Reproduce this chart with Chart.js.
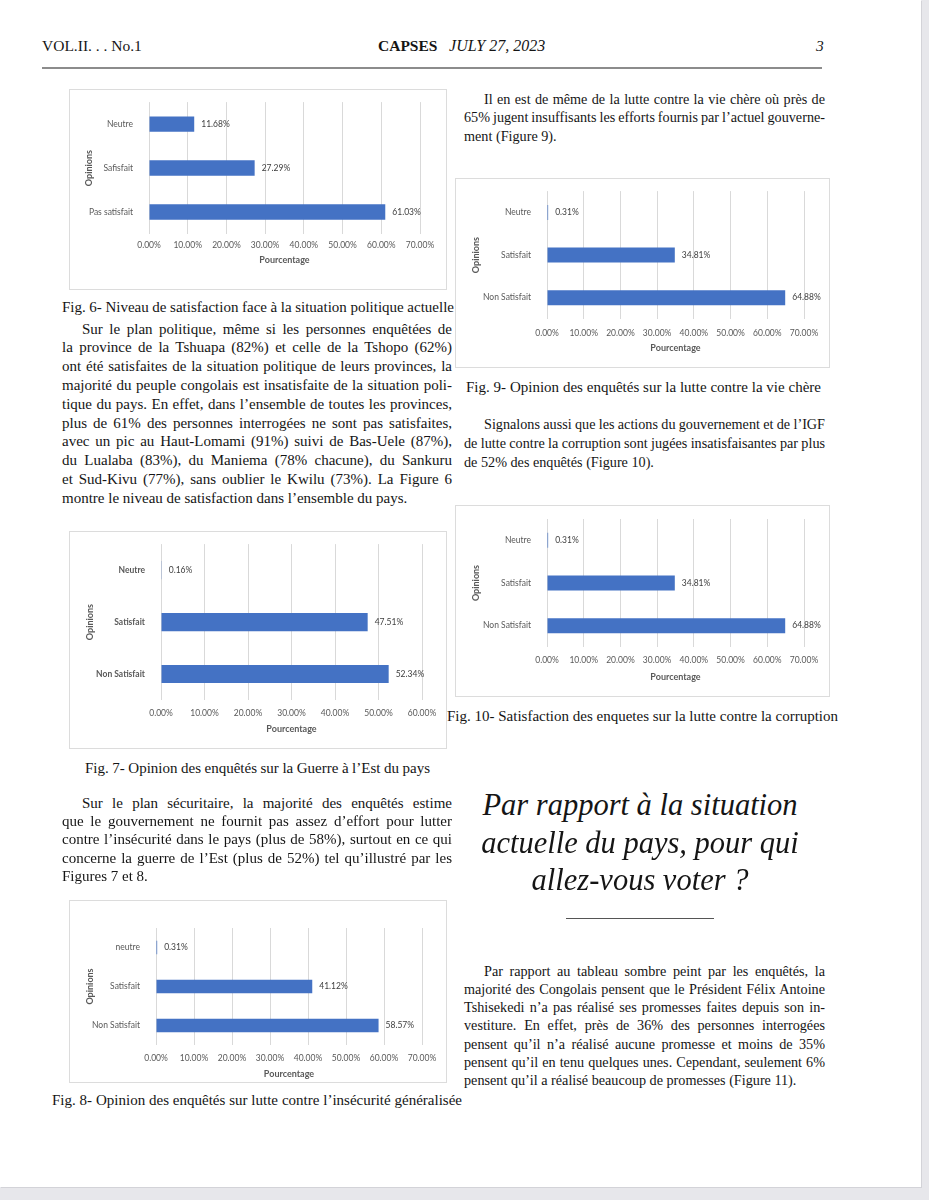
<!DOCTYPE html>
<html lang="fr">
<head>
<meta charset="utf-8">
<title>CAPSES - July 27, 2023 - page 3</title>
<script src="https://cdn.jsdelivr.net/npm/chart.js@4.4.0/dist/chart.umd.min.js"></script>
<style>
  html, body { margin: 0; padding: 0; }
  body { width: 929px; height: 1200px; background: #e7e7eb; position: relative; overflow: hidden;
         font-family: "Liberation Serif", "Times New Roman", serif; color: #151515; }
  #page { position: absolute; left: 0; top: 0; width: 921px; height: 1187px; background: #fff;
          box-shadow: 1px 1px 0 #d3d3d8; }
  .ln { position: absolute; white-space: nowrap; font-size: 15px; line-height: 19px; }
  .hd { position: absolute; white-space: nowrap; font-size: 15.5px; line-height: 20px; top: 36px; }
  .quote { position: absolute; white-space: nowrap; font-size: 30.5px; line-height: 36px; font-style: italic;
           left: 440px; width: 400px; text-align: center; }
  .box { position: absolute; border: 1px solid #dcdcdc; box-sizing: border-box; background: #fff; }
  .box canvas { position: absolute; left: -1px; top: -1px; }
  .rule { position: absolute; }
</style>
</head>
<body>
<div id="page">
  <div class="hd" style="left:42px;">VOL.II. . . No.1</div>
  <div class="hd" style="left:378px;"><b>CAPSES</b>&nbsp;&nbsp;&nbsp;<i style="font-size:16px;">JULY 27, 2023</i></div>
  <div class="hd" style="left:816px;"><i>3</i></div>
  <div class="rule" style="left:42px; top:67px; width:780px; height:2px; background:#8c8c8c;"></div>

  <div class="box" id="box6"><canvas id="fig6"></canvas></div>
  <div class="box" id="box7"><canvas id="fig7"></canvas></div>
  <div class="box" id="box8"><canvas id="fig8"></canvas></div>
  <div class="box" id="box9"><canvas id="fig9"></canvas></div>
  <div class="box" id="box10"><canvas id="fig10"></canvas></div>

  <div class="quote" style="top:787px;">Par rapport à la situation</div>
  <div class="quote" style="top:825px;">actuelle du pays, pour qui</div>
  <div class="quote" style="top:862px;">allez-vous voter ?</div>
  <div class="rule" style="left:566px; top:918px; width:148px; height:1px; background:#555;"></div>
</div>

<script>
// chart values
const fig6Categories = ["Neutre", "Safisfait", "Pas satisfait"];
const fig6Values = [11.68, 27.29, 61.03];
const fig7Categories = ["Neutre", "Satisfait", "Non Satisfait"];
const fig7Values = [0.16, 47.51, 52.34];
const fig8Categories = ["neutre", "Satisfait", "Non Satisfait"];
const fig8Values = [0.31, 41.12, 58.57];
const fig9Categories = ["Neutre", "Satisfait", "Non Satisfait"];
const fig9Values = [0.31, 34.81, 64.88];
const fig10Categories = ["Neutre", "Satisfait", "Non Satisfait"];
const fig10Values = [0.31, 34.81, 64.88];
const ticks70 = [0, 10, 20, 30, 40, 50, 60, 70];
const ticks60 = [0, 10, 20, 30, 40, 50, 60];

// text of the page, line by line as printed
const para1Lines = [
  "Sur le plan politique, même si les personnes enquêtées de",
  "la province de la Tshuapa (82%) et celle de la Tshopo (62%)",
  "ont été satisfaites de la situation politique de leurs provinces, la",
  "majorité du peuple congolais est insatisfaite de la situation poli-",
  "tique du pays. En effet, dans l’ensemble de toutes les provinces,",
  "plus de 61% des personnes interrogées ne sont pas satisfaites,",
  "avec un pic au Haut-Lomami (91%) suivi de Bas-Uele (87%),",
  "du Lualaba (83%), du Maniema (78% chacune), du Sankuru",
  "et Sud-Kivu (77%), sans oublier le Kwilu (73%). La Figure 6",
  "montre le niveau de satisfaction dans l’ensemble du pays."
];
const para2Lines = [
  "Sur le plan sécuritaire, la majorité des enquêtés estime",
  "que le gouvernement ne fournit pas assez d’effort pour lutter",
  "contre l’insécurité dans le pays (plus de 58%), surtout en ce qui",
  "concerne la guerre de l’Est (plus de 52%) tel qu’illustré par les",
  "Figures 7 et 8."
];
const para3Lines = [
  "Il en est de même de la lutte contre la vie chère où près de",
  "65% jugent insuffisants les efforts fournis par l’actuel gouverne-",
  "ment (Figure 9)."
];
const para4Lines = [
  "Signalons aussi que les actions du gouvernement et de l’IGF",
  "de lutte contre la corruption sont jugées insatisfaisantes par plus",
  "de 52% des enquêtés (Figure 10)."
];
const para5Lines = [
  "Par rapport au tableau sombre peint par les enquêtés, la",
  "majorité des Congolais pensent que le Président Félix Antoine",
  "Tshisekedi n’a pas réalisé ses promesses faites depuis son in-",
  "vestiture. En effet, près de 36% des personnes interrogées",
  "pensent qu’il n’a réalisé aucune promesse et moins de 35%",
  "pensent qu’il en tenu quelques unes. Cependant, seulement 6%",
  "pensent qu’il a réalisé beaucoup de promesses (Figure 11)."
];

const page = document.getElementById("page");

function placeLines(lines, left, width, y0, step, indent, justifyLast, size) {
  lines.forEach(function(txt, i) {
    let el = document.createElement("div");
    el.className = "ln";
    if (size) el.style.fontSize = size + "px";
    let ind = (i === 0) ? indent : 0;
    el.style.left = (left + ind) + "px";
    el.style.top = (y0 + i * step - 9.5) + "px";
    el.textContent = txt;
    page.appendChild(el);
    if (i < lines.length - 1 || justifyLast) {
      let natural = el.getBoundingClientRect().width;
      let gaps = (txt.match(/ /g) || []).length;
      if (gaps) el.style.wordSpacing = ((width - ind - natural) / gaps) + "px";
    }
  });
}

placeLines(para1Lines, 62, 390, 329, 18.8, 20, false);
placeLines(para2Lines, 62, 390, 803, 18.4, 20, false);
placeLines(para3Lines, 464, 361, 99, 18.5, 20, false, 14.2);
placeLines(para4Lines, 464, 361, 424, 19, 20, false, 14.2);
placeLines(para5Lines, 464, 361, 971, 18.3, 20, false, 14.2);

placeLines(["Fig. 6- Niveau de satisfaction face à la situation politique actuelle"], 62, 392, 307, 0, 0, true);
placeLines(["Fig. 7- Opinion des enquêtés sur la Guerre à l’Est du pays"], 85, 345, 768, 0, 0, true);
placeLines(["Fig. 8- Opinion des enquêtés sur lutte contre l’insécurité généralisée"], 52, 410, 1100, 0, 0, true);
placeLines(["Fig. 9- Opinion des enquêtés sur la lutte contre la vie chère"], 466, 355, 387, 0, 0, true);
placeLines(["Fig. 10- Satisfaction des enquetes sur la lutte contre la corruption"], 447, 391, 716, 0, 0, true);

// value labels at the end of each bar
const valueLabels = {
  id: "valueLabels",
  afterDatasetsDraw(chart) {
    let ctx = chart.ctx;
    let meta = chart.getDatasetMeta(0);
    ctx.save();
    ctx.font = "8.5px Lato";
    ctx.fillStyle = "#404040";
    ctx.textBaseline = "middle";
    meta.data.forEach(function(bar, i) {
      ctx.fillText(chart.data.datasets[0].data[i].toFixed(2) + "%", bar.x + 7, bar.y);
    });
    ctx.restore();
  }
};

function barChart(id, box, plot, tickY, titleY, opinionsX, categories, values, tickValues, boldCats) {
  let wrap = document.getElementById("box" + id);
  wrap.style.left = box.x + "px";
  wrap.style.top = box.y + "px";
  wrap.style.width = box.w + "px";
  wrap.style.height = box.h + "px";
  let cv = document.getElementById("fig" + id);
  cv.width = box.w;
  cv.height = box.h;
  let scaleLeft = opinionsX - 5.4;

  return new Chart(cv, {
    type: "bar",
    data: {
      labels: categories,
      datasets: [{
        data: values,
        backgroundColor: "#4472c4",
        borderWidth: 0,
        barPercentage: 1,
        categoryPercentage: 0.35
      }]
    },
    plugins: [valueLabels],
    options: {
      indexAxis: "y",
      responsive: false,
      maintainAspectRatio: false,
      animation: false,
      devicePixelRatio: 1,
      layout: {
        padding: {
          left: scaleLeft - box.x,
          right: box.x + box.w - plot.r,
          top: plot.t - box.y,
          bottom: box.y + box.h - (titleY + 5.4)
        }
      },
      plugins: { legend: { display: false }, tooltip: { enabled: false } },
      scales: {
        x: {
          min: 0,
          max: tickValues[tickValues.length - 1],
          afterBuildTicks: function(s) { s.ticks = tickValues.map(function(v) { return { value: v }; }); },
          afterFit: function(s) { s.height = titleY + 5.4 - plot.b; },
          grid: { color: "#d9d9d9", drawTicks: false },
          border: { display: false },
          ticks: {
            autoSkip: false, maxRotation: 0,
            padding: tickY - plot.b - 5,
            color: "#595959",
            font: { family: "Lato", size: 8.5 },
            callback: function(v) { return v.toFixed(2) + "%"; }
          },
          title: { display: true, text: "Pourcentage", color: "#595959", padding: 0,
                   font: { family: "Lato", size: 9, weight: "bold" } }
        },
        y: {
          afterFit: function(s) { s.width = plot.l - scaleLeft; },
          grid: { display: false },
          border: { display: false },
          ticks: { padding: 8, color: "#595959",
                   font: { family: "Lato", size: 8.5, weight: boldCats ? "bold" : "normal" } },
          title: { display: true, text: "Opinions", color: "#595959", padding: 0,
                   font: { family: "Lato", size: 9, weight: "bold" } }
        }
      }
    }
  });
}

barChart(6, { x: 69, y: 89, w: 378, h: 201 }, { l: 149, r: 420, t: 101, b: 234 }, 245, 260, 89,
         fig6Categories, fig6Values, ticks70, false);
barChart(7, { x: 69, y: 531, w: 378, h: 218 }, { l: 161, r: 422, t: 543, b: 700 }, 713, 729, 90,
         fig7Categories, fig7Values, ticks60, true);
barChart(8, { x: 69, y: 900, w: 378, h: 183 }, { l: 156, r: 422, t: 928, b: 1045 }, 1058, 1074, 90,
         fig8Categories, fig8Values, ticks70, false);
barChart(9, { x: 455, y: 178, w: 375, h: 190 }, { l: 547, r: 804, t: 190, b: 319 }, 333, 348, 476,
         fig9Categories, fig9Values, ticks70, false);
barChart(10, { x: 455, y: 505, w: 375, h: 192 }, { l: 547, r: 804, t: 519, b: 647 }, 660, 677, 476,
         fig10Categories, fig10Values, ticks70, false);
</script>
</body>
</html>
